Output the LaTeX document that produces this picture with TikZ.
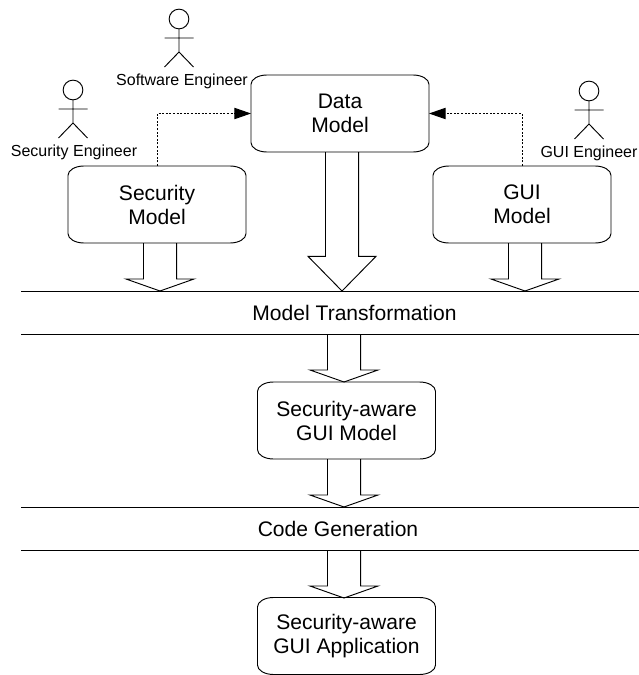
\documentclass[tikz,border=0pt]{standalone}
\usepackage{fontspec}
\setmainfont{Liberation Sans}
\usetikzlibrary{arrows.meta,positioning,calc}
\tikzset{
	modelbox/.style={minimum width=133.5pt,minimum height=57.75pt,inner sep=0pt,outer sep=0pt,
		align=center,font=\fontsize{15.8}{18}\selectfont,
		append after command={\pgfextra{\draw[line width=.7pt]
			([xshift=12pt]\tikzlastnode.north west) -- ([xshift=-12pt]\tikzlastnode.north east)
			arc[start angle=90,end angle=0,x radius=12pt,y radius=7pt]
			-- ([yshift=7pt]\tikzlastnode.south east)
			arc[start angle=0,end angle=-90,x radius=12pt,y radius=7pt]
			-- ([xshift=12pt]\tikzlastnode.south west)
			arc[start angle=270,end angle=180,x radius=12pt,y radius=7pt]
			-- ([yshift=-7pt]\tikzlastnode.north west)
			arc[start angle=180,end angle=90,x radius=12pt,y radius=7pt] -- cycle;}}},
	steplabel/.style={font=\fontsize{15.8}{18}\selectfont,inner sep=0pt},
	actorlabel/.style={font=\fontsize{12}{14}\selectfont,inner sep=0pt},
	rulerline/.style={line width=.6pt},
	usesline/.style={dash pattern=on 1.5pt off 1.2pt,line width=.7pt,-{Triangle[length=12.5pt,width=8.5pt]}},
	blockarrow/.style={line width=.7pt,to path={
		let \p1=(\tikztostart), \p2=(\tikztotarget) in
		(\x1-12.4pt,\y1) -- (\x1-12.4pt,\y2+#1) -- (\x1-25.5pt,\y2+#1) -- (\x2,\y2)
		-- (\x1+25.5pt,\y2+#1) -- (\x1+12.4pt,\y2+#1) -- (\x1+12.4pt,\y1)}},
	blockarrow/.default=9pt,
	pics/actor/.style={code={
		\draw[line width=.7pt] (0,0) circle (7.4pt);
		\draw[line width=.7pt] (0,10) -- (0,33) (-14.5,19) -- (14.5,19)
			(-14.5,48) -- (0,33) -- (14.5,48);}}
}
\begin{document}
\begin{tikzpicture}[x=.75pt,y=-.75pt]
	\useasboundingbox (0,0) rectangle (639,675);
	% models
	\node[modelbox] (data) at (340,113.5) {Data\\Model};
	\node[modelbox] (secmodel) at (157,204.5) {Security\\Model};
	\node[modelbox] (guimodel) at (522,204.5) {GUI\\Model};
	\node[modelbox] (secgui) at (346.5,420.5) {Security-aware\\GUI Model};
	\node[modelbox] (secapp) at (346.5,636) {Security-aware\\GUI Application};
	% engineers
	\pic at (179,19) {actor};
	\pic at (73,90) {actor};
	\pic at (589,91) {actor};
	\node[actorlabel] (swlabel) at (182,81) {Software Engineer};
	\node[actorlabel] (seclabel) at (74,152) {Security Engineer};
	\node[actorlabel] (guilabel) at (589,153) {GUI Engineer};
	% steps
	\foreach \y in {291,334,507,550}
		\draw[rulerline] (21,\y) -- (639,\y);
	\node[steplabel] (transform) at (354.5,312.5) {Model Transformation};
	\node[steplabel] (codegen) at (338,529) {Code Generation};
	% refinement
	\draw[usesline] (secmodel.north) |- (data.west);
	\draw[usesline] (guimodel.north) |- (data.east);
	% flow
	\coordinate (secout) at (160,243);
	\coordinate (sectip) at (160,291);
	\coordinate (dataout) at (342,152);
	\coordinate (datatip) at (342,291);
	\coordinate (guiout) at (525,243);
	\coordinate (guitip) at (525,291);
	\coordinate (mtout) at (344,334);
	\coordinate (mttip) at (344,382);
	\coordinate (sgout) at (344,459);
	\coordinate (sgtip) at (344,507);
	\coordinate (cgout) at (344,550);
	\coordinate (cgtip) at (344,598);
	\draw[blockarrow] (secout) to (sectip);
	\draw[blockarrow=26pt] (dataout) to (datatip);
	\draw[blockarrow] (guiout) to (guitip);
	\draw[blockarrow] (mtout) to (mttip);
	\draw[blockarrow] (sgout) to (sgtip);
	\draw[blockarrow] (cgout) to (cgtip);
\end{tikzpicture}
\end{document}
